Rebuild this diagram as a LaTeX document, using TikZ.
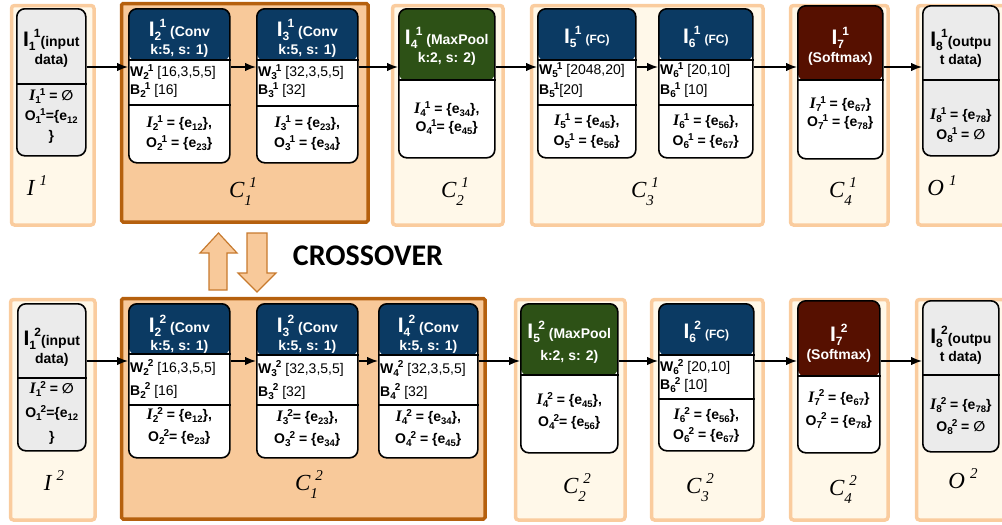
\documentclass[tikz,border=0pt]{standalone}
\usepackage[no-math]{fontspec}
\setmainfont{Liberation Sans}
\newfontfamily\setfont{Liberation Serif}
\newfontfamily\symfont{DejaVu Sans}
\newfontfamily\capfont{Carlito}
\usetikzlibrary{arrows.meta,positioning}
\definecolor{HeadBlue}{RGB}{11,58,99}
\definecolor{HeadGreen}{RGB}{45,81,22}
\definecolor{HeadRed}{RGB}{86,16,0}
\definecolor{NodeGray}{RGB}{235,235,235}
\definecolor{GroupFill}{RGB}{248,201,154}
\definecolor{GroupEdge}{RGB}{181,96,14}
\definecolor{PaleFill}{RGB}{255,248,233}
\definecolor{PaleEdge}{RGB}{250,204,158}
\definecolor{CrossEdge}{RGB}{199,122,46}
% stacked sub/superscripts for the layer names
\newcommand{\stk}[2]{{\fontsize{10}{10}\selectfont\rlap{\raisebox{-3pt}{#1}}\kern4.5pt\raisebox{5.5pt}{#2}}}
\newcommand{\hstk}[2]{{\fontsize{12}{12}\selectfont\rlap{\raisebox{-4pt}{#1}}\kern5pt\raisebox{9pt}{#2}}}
\newcommand{\hI}[2]{{\fontsize{21}{21}\selectfont I}\hstk{#1}{#2}}
\newcommand{\sI}[2]{{\setfont\fontsize{16}{16}\selectfont\bfseries\itshape I}\stk{#1}{#2}}
\newcommand{\esub}[1]{\raisebox{-3pt}{\fontsize{9.5}{9.5}\selectfont #1}}
\newcommand{\noset}{{\symfont ∅}}
% group names under the containers
\newcommand{\grp}[3]{{\setfont\itshape\fontsize{23}{23}\selectfont #1%
  \rlap{\raisebox{-8pt}{\fontsize{15}{15}\selectfont #2}}\kern5pt%
  \raisebox{10pt}{\fontsize{15}{15}\selectfont #3}}}
\tikzset{
  layer/.style 2 args={draw=black,line width=1.6pt,rounded corners=8pt,fill=white,
    inner sep=0pt,anchor=north west,
    path picture={\fill[#1] (path picture bounding box.north west)
      rectangle ([yshift=-#2]path picture bounding box.north east);}},
  secline/.style={line width=1.6pt},
  headtext/.style={text=white,align=center,inner sep=0pt,
    font=\bfseries\fontsize{14}{#1}\selectfont},
  headtext/.default=18,
  wbtext/.style={align=left,anchor=west,inner sep=0pt,
    font=\bfseries\fontsize{14}{#1}\selectfont},
  wbtext/.default=18,
  bodytext/.style={align=center,inner sep=0pt,
    font=\bfseries\fontsize{14}{#1}\selectfont},
  bodytext/.default=20,
  palebox/.style={draw=PaleEdge,fill=PaleFill,line width=3.5pt,
    rounded corners=3pt,anchor=north west,inner sep=0pt},
  groupbox/.style={draw=GroupEdge,fill=GroupFill,line width=3.5pt,
    rounded corners=1.5pt,anchor=north west,inner sep=0pt},
  setlabel/.style={inner sep=0pt},
  flowarrow/.style={-{Latex[length=11pt,width=8.5pt]},line width=1.4pt},
  crossarrow/.style={draw=CrossEdge,fill=GroupFill,line width=1.2pt},
}
\begin{document}
\begin{tikzpicture}[x=1pt,y=-1pt]
\useasboundingbox (0,0) rectangle (1002,525);
% containers
\node[palebox,minimum width=82.5pt,minimum height=219.5pt] (in1) at (9.75,3.75) {};
\node[groupbox,minimum width=246.5pt,minimum height=218.5pt] (c11) at (119.75,1.75) {};
\node[palebox,minimum width=110.5pt,minimum height=219.5pt] (c21) at (390.75,3.75) {};
\node[palebox,minimum width=231.5pt,minimum height=219.5pt] (c31) at (529.75,3.75) {};
\node[palebox,minimum width=97.5pt,minimum height=219.5pt] (c41) at (788.75,3.75) {};
\node[palebox,minimum width=92.5pt,minimum height=219.5pt] (out1) at (915.75,3.75) {};
\node[palebox,minimum width=84.5pt,minimum height=220.5pt] (in2) at (8.75,297.75) {};
\node[groupbox,minimum width=363.5pt,minimum height=220.5pt] (c12) at (119.75,296.75) {};
\node[palebox,minimum width=109.5pt,minimum height=220.5pt] (c22) at (513.75,297.75) {};
\node[palebox,minimum width=111.5pt,minimum height=220.5pt] (c32) at (649.75,297.75) {};
\node[palebox,minimum width=97.5pt,minimum height=220.5pt] (c42) at (788.75,297.75) {};
\node[palebox,minimum width=93.5pt,minimum height=220.5pt] (out2) at (914.75,297.75) {};
% container labels
\node[setlabel] (in1l) at (37,190) {\grp{I}{}{1}};
\node[setlabel] (c11l) at (243,192) {\grp{C}{1}{1}};
\node[setlabel] (c21l) at (455,192) {\grp{C}{2}{1}};
\node[setlabel] (c31l) at (645,192) {\grp{C}{3}{1}};
\node[setlabel] (c41l) at (843,192) {\grp{C}{4}{1}};
\node[setlabel] (out1l) at (942,190) {\grp{O}{}{1}};
\node[setlabel] (in2l) at (54,485) {\grp{I}{}{2}};
\node[setlabel] (c12l) at (309,485) {\grp{C}{1}{2}};
\node[setlabel] (c22l) at (577,488) {\grp{C}{2}{2}};
\node[setlabel] (c32l) at (700,488) {\grp{C}{3}{2}};
\node[setlabel] (c42l) at (843,490) {\grp{C}{4}{2}};
\node[setlabel] (out2l) at (963,483) {\grp{O}{}{2}};
% crossover
\draw[crossarrow] (209,290) -- (209,253) -- (200,253) -- (218.5,233) -- (237,253) -- (227,253) -- (227,290) -- cycle;
\draw[crossarrow] (247,233) -- (247,273) -- (238,273) -- (257,292) -- (276,273) -- (267,273) -- (267,233) -- cycle;
\node[font=\capfont\bfseries\fontsize{30}{30}\selectfont,inner sep=0pt] (xover) at (368,256) {CROSSOVER};
% network 1
\node[layer={NodeGray}{0pt},fill=NodeGray,minimum width=69pt,minimum height=147pt] (l11) at (16,8) {};
\node[headtext,text=black] (l11h) at ([yshift=-40pt]l11.north) {\hI{1}{1}(input\\data)};
\node[bodytext] (l11b) at ([yshift=-108pt]l11.north) {\sI{1}{1} = \noset\\O\stk{1}{1}=\{e\esub{12}\\\}};
\node[layer={HeadBlue}{52pt},minimum width=101pt,minimum height=154pt] (l21) at (128,8) {};
\node[headtext] (l21h) at ([yshift=-30pt]l21.north) {\hI{2}{1} (Conv\\k:5, s: 1)};
\node[wbtext] (l21w) at ([xshift=2pt,yshift=-73pt]l21.north west) {W\stk{2}{1} {\mdseries [16,3,5,5]}\\B\stk{2}{1} {\mdseries [16]}};
\node[bodytext] (l21b) at ([yshift=-125pt]l21.north) {\sI{2}{1} = \{e\esub{12}\},\\O\stk{2}{1} = \{e\esub{23}\}};
\node[layer={HeadBlue}{52pt},minimum width=101pt,minimum height=154pt] (l31) at (256,8) {};
\node[headtext] (l31h) at ([yshift=-30pt]l31.north) {\hI{3}{1} (Conv\\k:5, s: 1)};
\node[wbtext] (l31w) at ([xshift=2pt,yshift=-73pt]l31.north west) {W\stk{3}{1} {\mdseries [32,3,5,5]}\\B\stk{3}{1} {\mdseries [32]}};
\node[bodytext] (l31b) at ([yshift=-125pt]l31.north) {\sI{3}{1} = \{e\esub{23}\},\\O\stk{3}{1} = \{e\esub{34}\}};
\node[layer={HeadGreen}{72pt},minimum width=96pt,minimum height=149pt] (l41) at (398,8) {};
\node[headtext] (l41h) at ([yshift=-38pt]l41.north) {\hI{4}{1} (MaxPool\\k:2, s: 2)};
\node[bodytext=18] (l41b) at ([yshift=-110pt]l41.north) {\sI{4}{1} = \{e\esub{34}\},\\O\stk{4}{1}= \{e\esub{45}\}};
\node[layer={HeadBlue}{52pt},minimum width=98pt,minimum height=149pt] (l51) at (537,8) {};
\node[headtext] (l51h) at ([yshift=-29pt]l51.north) {\hI{5}{1} {\fontsize{12}{12}\selectfont (FC)}};
\node[wbtext=20] (l51w) at ([xshift=2pt,yshift=-72pt]l51.north west) {W\stk{5}{1} {\mdseries [2048,20]}\\B\stk{5}{1}{\mdseries [20]}};
\node[bodytext] (l51b) at ([yshift=-123pt]l51.north) {\sI{5}{1} = \{e\esub{45}\},\\O\stk{5}{1} = \{e\esub{56}\}};
\node[layer={HeadBlue}{52pt},minimum width=94pt,minimum height=149pt] (l61) at (658,8) {};
\node[headtext] (l61h) at ([yshift=-29pt]l61.north) {\hI{6}{1} {\fontsize{12}{12}\selectfont (FC)}};
\node[wbtext=20] (l61w) at ([xshift=2pt,yshift=-72pt]l61.north west) {W\stk{6}{1} {\mdseries [20,10]}\\B\stk{6}{1} {\mdseries [10]}};
\node[bodytext] (l61b) at ([yshift=-123pt]l61.north) {\sI{6}{1} = \{e\esub{56}\},\\O\stk{6}{1} = \{e\esub{67}\}};
\node[layer={HeadRed}{75pt},minimum width=85pt,minimum height=153pt] (l71) at (797,5) {};
\node[headtext] (l71h) at ([yshift=-41pt]l71.north) {\hI{7}{1}\\(Softmax)};
\node[bodytext=18] (l71b) at ([yshift=-108pt]l71.north) {\sI{7}{1} = \{e\esub{67}\}\\O\stk{7}{1} = \{e\esub{78}\}};
\node[layer={NodeGray}{0pt},fill=NodeGray,minimum width=76pt,minimum height=150pt] (l81) at (922,5) {};
\node[headtext,text=black] (l81h) at ([yshift=-43pt]l81.north) {\hI{8}{1}(outpu\\t data)};
\node[bodytext] (l81b) at ([yshift=-120pt]l81.north) {\sI{8}{1} = \{e\esub{78}\}\\O\stk{8}{1} = \noset};
% network 2
\node[layer={NodeGray}{0pt},fill=NodeGray,minimum width=68pt,minimum height=147pt] (l12) at (17,303) {};
\node[headtext,text=black] (l12h) at ([yshift=-44pt]l12.north) {\hI{1}{2}(input\\data)};
\node[bodytext=24] (l12b) at ([yshift=-110pt]l12.north) {\sI{1}{2} = \noset\\O\stk{1}{2}=\{e\esub{12}\\\}};
\node[layer={HeadBlue}{51pt},minimum width=101pt,minimum height=154pt] (l22) at (128,303) {};
\node[headtext] (l22h) at ([yshift=-31pt]l22.north) {\hI{2}{2} (Conv\\k:5, s: 1)};
\node[wbtext=23] (l22w) at ([xshift=2pt,yshift=-76pt]l22.north west) {W\stk{2}{2} {\mdseries [16,3,5,5]}\\B\stk{2}{2} {\mdseries [16]}};
\node[bodytext=22] (l22b) at ([yshift=-123pt]l22.north) {\sI{2}{2} = \{e\esub{12}\},\\O\stk{2}{2}= \{e\esub{23}\}};
\node[layer={HeadBlue}{52pt},minimum width=101pt,minimum height=154pt] (l32) at (256,303) {};
\node[headtext] (l32h) at ([yshift=-31pt]l32.north) {\hI{3}{2} (Conv\\k:5, s: 1)};
\node[wbtext=23] (l32w) at ([xshift=2pt,yshift=-77pt]l32.north west) {W\stk{3}{2} {\mdseries [32,3,5,5]}\\B\stk{3}{2} {\mdseries [32]}};
\node[bodytext=22] (l32b) at ([yshift=-125pt]l32.north) {\sI{3}{2}= \{e\esub{23}\},\\O\stk{3}{2} = \{e\esub{34}\}};
\node[layer={HeadBlue}{52pt},minimum width=99pt,minimum height=154pt] (l42) at (378,303) {};
\node[headtext] (l42h) at ([yshift=-31pt]l42.north) {\hI{4}{2} (Conv\\k:5, s: 1)};
\node[wbtext=23] (l42w) at ([xshift=2pt,yshift=-77pt]l42.north west) {W\stk{4}{2} {\mdseries [32,3,5,5]}\\B\stk{4}{2} {\mdseries [32]}};
\node[bodytext=22] (l42b) at ([yshift=-125pt]l42.north) {\sI{4}{2} = \{e\esub{34}\},\\O\stk{4}{2} = \{e\esub{45}\}};
\node[layer={HeadGreen}{72pt},minimum width=97pt,minimum height=149pt] (l52) at (520,303) {};
\node[headtext=22] (l52h) at ([yshift=-39pt]l52.north) {\hI{5}{2} (MaxPool\\k:2, s: 2)};
\node[bodytext=22] (l52b) at ([yshift=-108pt]l52.north) {\sI{4}{2} = \{e\esub{45}\},\\O\stk{4}{2}= \{e\esub{56}\}};
\node[layer={HeadBlue}{52pt},minimum width=95pt,minimum height=147pt] (l62) at (658,303) {};
\node[headtext] (l62h) at ([yshift=-29pt]l62.north) {\hI{6}{2} {\fontsize{12}{12}\selectfont (FC)}};
\node[wbtext] (l62w) at ([xshift=2pt,yshift=-73pt]l62.north west) {W\stk{6}{2} {\mdseries [20,10]}\\B\stk{6}{2} {\mdseries [10]}};
\node[bodytext] (l62b) at ([yshift=-122pt]l62.north) {\sI{6}{2} = \{e\esub{56}\},\\O\stk{6}{2} = \{e\esub{67}\}};
\node[layer={HeadRed}{76pt},minimum width=82pt,minimum height=152pt] (l72) at (797,300) {};
\node[headtext] (l72h) at ([yshift=-43pt]l72.north) {\hI{7}{2}\\(Softmax)};
\node[bodytext=23] (l72b) at ([yshift=-109pt]l72.north) {\sI{7}{2} = \{e\esub{67}\}\\O\stk{7}{2} = \{e\esub{78}\}};
\node[layer={NodeGray}{0pt},fill=NodeGray,minimum width=76pt,minimum height=151pt] (l82) at (922,300) {};
\node[headtext,text=black] (l82h) at ([yshift=-45pt]l82.north) {\hI{8}{2}(outpu\\t data)};
\node[bodytext=22] (l82b) at ([yshift=-116pt]l82.north) {\sI{8}{2} = \{e\esub{78}\}\\O\stk{8}{2} = \noset};
% section lines inside the layers
\foreach \n/\d in {l11/76,l21/52,l21/97,l31/52,l31/98,l41/72,l51/52,l51/97,
    l61/52,l61/97,l71/75,l81/75,l12/75,l22/51,l22/102,l32/52,l32/102,
    l42/52,l42/102,l52/72,l62/52,l62/96,l72/76,l82/75}
  \draw[secline] ([yshift=-\d pt]\n.north west) -- ([yshift=-\d pt]\n.north east);
% connectors
\coordinate (row1) at (0,67);
\coordinate (row2) at (0,361);
\foreach \a/\b in {l11/l21,l21/l31,l31/l41,l41/l51,l51/l61,l61/l71,l71/l81}
  \draw[flowarrow] (\a.east |- row1) -- (\b.west |- row1);
\foreach \a/\b in {l12/l22,l22/l32,l32/l42,l42/l52,l52/l62,l62/l72,l72/l82}
  \draw[flowarrow] (\a.east |- row2) -- (\b.west |- row2);
\end{tikzpicture}
\end{document}
